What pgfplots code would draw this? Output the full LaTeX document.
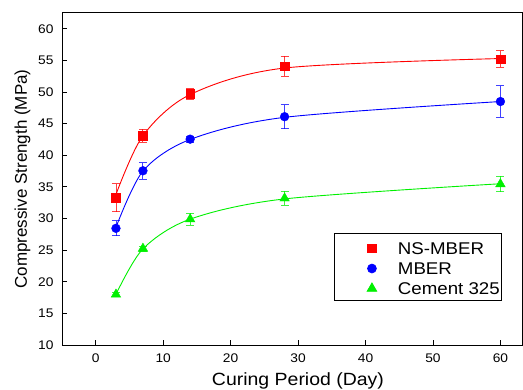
\documentclass[border=0pt]{standalone}
\usepackage{fontspec}
\setmainfont{Liberation Sans}[FakeStretch=1.1]
\newfontfamily\plainfont{Liberation Sans}
\usepackage{pgfplots}
\pgfplotsset{compat=1.18}
\definecolor{myred}{RGB}{255,0,0}
\definecolor{myblue}{RGB}{0,0,255}
\definecolor{mygreen}{RGB}{0,240,0}
\begin{document}
\begin{tikzpicture}
\useasboundingbox (0,0) rectangle (523pt,389pt);
\begin{axis}[
  at={(62pt,44pt)}, anchor=south west,
  scale only axis, width=460pt, height=332pt,
  xmin=-5, xmax=63.2, ymin=10, ymax=62.5,
  xtick={0,10,...,60}, ytick={10,15,...,60},
  tick align=inside, xtick pos=bottom, ytick pos=left,
  major tick length=5pt,
  axis line style={line width=1pt},
  every tick/.style={black, line width=0.9pt},
  /pgf/number format/assume math mode=true,
  tick label style={font=\fontsize{12.5}{14}\selectfont},
  xticklabel style={yshift=-5pt},
  yticklabel style={xshift=-5pt},
  xlabel={\fontsize{17.7}{20}\selectfont Curing Period (Day)},
  ylabel={\plainfont\fontsize{17}{20}\selectfont Compressive Strength (MPa)},
  xlabel style={at={(axis description cs:0.513,-0.1205)}, anchor=base},
  ylabel style={at={(axis description cs:-0.0761,0.5)}, anchor=base},
  legend cell align=left,
  legend style={at={(rel axis cs:0.957,0.337)}, anchor=north east, draw=black, line width=0.8pt,
    font=\fontsize{17}{19}\selectfont, inner xsep=2pt, inner ysep=5pt, row sep=3pt,
    nodes={inner sep=0pt, text height=16pt, text depth=1pt}, cells={anchor=base west}},
  legend image code/.code={\path[draw=none,fill=none] (-36pt,0pt) rectangle (26pt,12pt); \path[#1, draw=none, only marks] plot coordinates {(0pt,6pt)};},
  error bars/error bar style={line width=0.9pt, opacity=0.75},
  error bars/error mark options={rotate=90, mark size=4pt, line width=0.9pt, opacity=0.75},
]
% fitted curves
\addplot[myred, line width=0.9pt, smooth, forget plot] coordinates {(3,33.8) (7,43.1) (14,49.6) (28,53.8) (60,55.3)};
\addplot[myblue, line width=0.9pt, smooth, forget plot] coordinates {(3,28.6) (7,37.5) (14,42.5) (28,46.0) (60,48.5)};
\addplot[mygreen, line width=0.9pt, smooth, forget plot] coordinates {(3,18.0) (7,25.2) (14,29.9) (28,33.1) (60,35.5)};
% data with error bars
\addplot[only marks, mark=square*, mark size=4.3pt, color=myred,
  error bars/.cd, y dir=both, y explicit] coordinates {
  (3,33.3) +- (0,2.2)
  (7,43.1) +- (0,1.0)
  (14,49.7) +- (0,0.8)
  (28,54.1) +- (0,1.6)
  (60,55.2) +- (0,1.3)
};
\addlegendentry{NS-MBER}
\addplot[only marks, mark=*, mark size=4.4pt, color=myblue,
  error bars/.cd, y dir=both, y explicit] coordinates {
  (3,28.45) +- (0,1.2)
  (7,37.55) +- (0,1.3)
  (14,42.55) +- (0,0.5)
  (28,46.1) +- (0,1.9)
  (60,48.5) +- (0,2.5)
};
\addlegendentry{MBER}
\addplot[only marks, mark=triangle*, mark size=5.5pt, color=mygreen,
  error bars/.cd, y dir=both, y explicit] coordinates {
  (3,18.0) +- (0,0.3)
  (7,25.25) +- (0,0.4)
  (14,29.9) +- (0,0.95)
  (28,33.2) +- (0,1.1)
  (60,35.45) +- (0,1.2)
};
\addlegendentry{Cement 325}
\end{axis}
\end{tikzpicture}
\end{document}
